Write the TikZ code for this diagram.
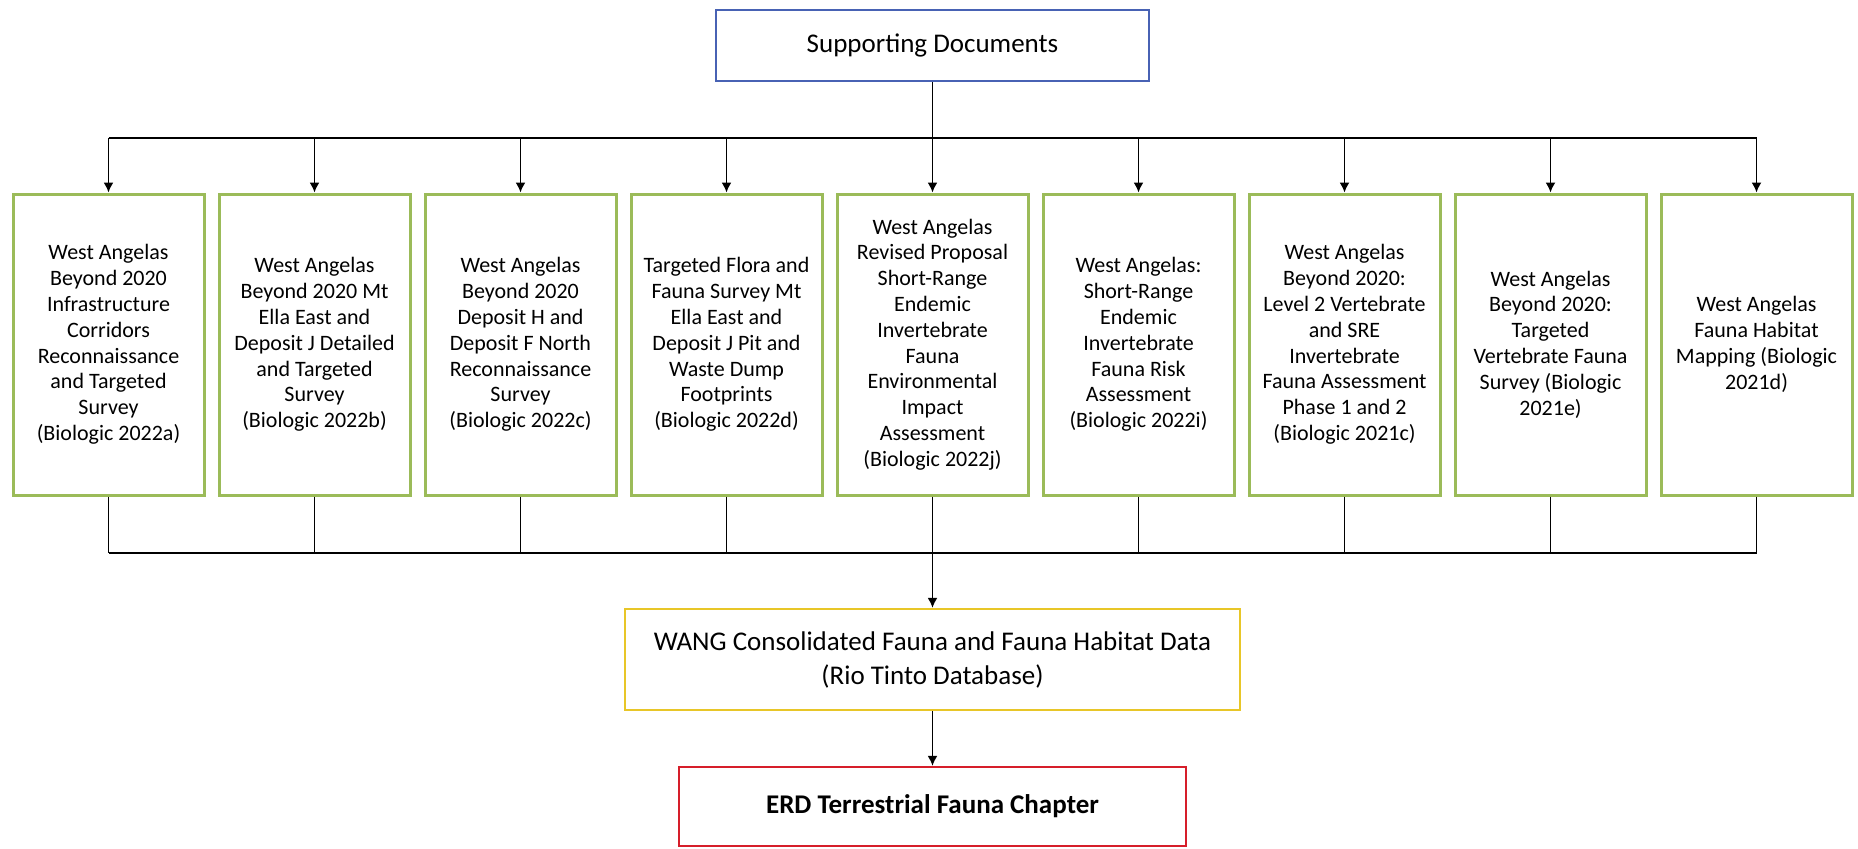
\documentclass[tikz,border=0pt]{standalone}
\usepackage{fontspec}
\setmainfont{Carlito}
\usetikzlibrary{arrows.meta}

\definecolor{docgreen}{RGB}{155,187,89}
\definecolor{headblue}{RGB}{72,98,180}
\definecolor{datayellow}{RGB}{232,198,40}
\definecolor{chapterred}{RGB}{214,30,42}

\begin{document}
\begin{tikzpicture}
[x=0.5pt, y=-0.5pt,
 link/.style={line width=0.8pt},
 arrow/.style={link, -{Latex[length=5pt, width=5pt]}},
 doc/.style={draw=docgreen, line width=1.5pt, minimum width=95.5pt,
   minimum height=150.5pt, inner sep=0pt, align=center,
   font=\fontsize{11}{12.9}\selectfont},
 big box/.style={line width=1.2pt, inner sep=0pt, align=center,
   font=\fontsize{13.5}{17}\selectfont}]
\useasboundingbox (0,0) rectangle (1858,848);

\node [big box, draw=headblue, minimum width=216.5pt, minimum height=35.5pt]
 (supporting) at (932.5,45.5) {Supporting Documents};

\foreach \i/\txt in {
 1/{West Angelas\\Beyond 2020\\Infrastructure\\Corridors\\Reconnaissance\\and Targeted\\Survey\\(Biologic 2022a)},
 2/{West Angelas\\Beyond 2020 Mt\\Ella East and\\Deposit J Detailed\\and Targeted\\Survey\\(Biologic 2022b)},
 3/{West Angelas\\Beyond 2020\\Deposit H and\\Deposit F North\\Reconnaissance\\Survey\\(Biologic 2022c)},
 4/{Targeted Flora and\\Fauna Survey Mt\\Ella East and\\Deposit J Pit and\\Waste Dump\\Footprints\\(Biologic 2022d)},
 5/{West Angelas\\Revised Proposal\\Short-Range\\Endemic\\Invertebrate\\Fauna\\Environmental\\Impact\\Assessment\\(Biologic 2022j)},
 6/{West Angelas:\\Short-Range\\Endemic\\Invertebrate\\Fauna Risk\\Assessment\\(Biologic 2022i)},
 7/{West Angelas\\Beyond 2020:\\Level 2 Vertebrate\\and SRE\\Invertebrate\\Fauna Assessment\\Phase 1 and 2\\(Biologic 2021c)},
 8/{West Angelas\\Beyond 2020:\\Targeted\\Vertebrate Fauna\\Survey (Biologic\\2021e)},
 9/{West Angelas\\Fauna Habitat\\Mapping (Biologic\\2021d)}}{
	\node [doc] (doc \i) at ({108.5+206*(\i-1)}, 344.5) {\txt};
}

\node [big box, draw=datayellow, minimum width=307.5pt, minimum height=50.5pt]
 (wang) at (932.5,659.5)
 {WANG Consolidated Fauna and Fauna Habitat Data\\(Rio Tinto Database)};
\node [big box, draw=chapterred, minimum width=253.5pt, minimum height=39.5pt,
 font=\fontsize{13.5}{17}\selectfont\bfseries]
 (erd) at (932.5,806.5) {ERD Terrestrial Fauna Chapter};

\coordinate (split) at (932.5,138);
\coordinate (merge) at (932.5,553);
\draw [link] (supporting) -- (split);
\draw [link] (split -| doc 1) -- (split -| doc 9);
\foreach \i in {1,...,9}{
	\draw [arrow] (split -| doc \i) -- (doc \i);
	\draw [link] (doc \i) -- (merge -| doc \i);
}
\draw [link] (merge -| doc 1) -- (merge -| doc 9);
\draw [arrow] (merge) -- (wang);
\draw [arrow] (wang) -- (erd);
\end{tikzpicture}
\end{document}
